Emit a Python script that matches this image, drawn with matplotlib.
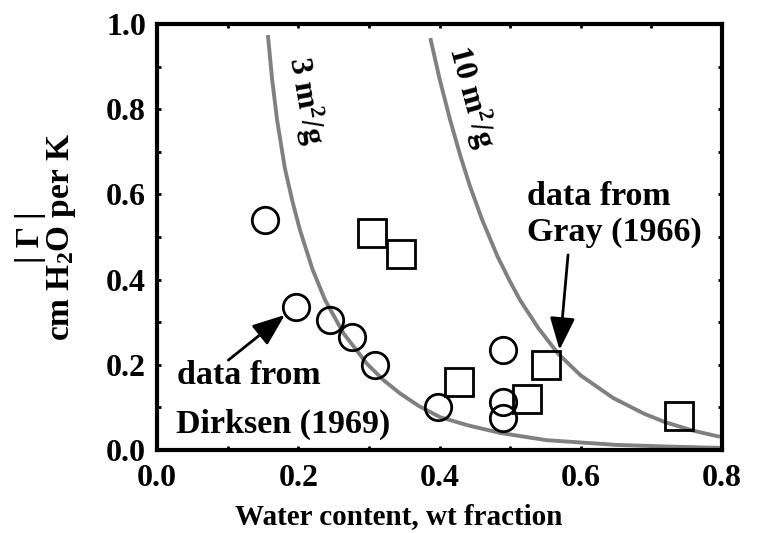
import matplotlib
matplotlib.use("Agg")
import matplotlib.pyplot as plt

# curve: 3 m^2/g
w3 = [0.157, 0.163, 0.170, 0.181, 0.192, 0.2025, 0.220, 0.238, 0.264, 0.297,
      0.320, 0.344, 0.370, 0.401, 0.440, 0.486, 0.552, 0.650, 0.725, 0.797]
g3 = [0.974, 0.870, 0.775, 0.662, 0.582, 0.516, 0.425, 0.352, 0.274, 0.203,
      0.165, 0.133, 0.104, 0.077, 0.058, 0.040, 0.023, 0.012, 0.008, 0.005]

# curve: 10 m^2/g
w10 = [0.387, 0.400, 0.415, 0.430, 0.443, 0.460, 0.482, 0.500, 0.514, 0.540,
       0.568, 0.600, 0.646, 0.690, 0.720, 0.760, 0.797]
g10 = [0.967, 0.872, 0.775, 0.688, 0.620, 0.542, 0.455, 0.395, 0.352, 0.286,
       0.226, 0.175, 0.122, 0.085, 0.065, 0.045, 0.031]

# Dirksen (1969) - circles
dirk_w = [0.153, 0.197, 0.245, 0.276, 0.309, 0.398, 0.490, 0.490, 0.490]
dirk_g = [0.540, 0.336, 0.305, 0.265, 0.200, 0.100, 0.235, 0.113, 0.075]

# Gray (1966) - squares
gray_w = [0.305, 0.346, 0.428, 0.524, 0.551, 0.739]
gray_g = [0.509, 0.459, 0.160, 0.120, 0.200, 0.080]

plt.rcParams["font.family"] = ["Liberation Serif", "DejaVu Serif"]
plt.rcParams["font.weight"] = "bold"
plt.rcParams["axes.labelweight"] = "bold"
plt.rcParams["mathtext.fontset"] = "custom"
plt.rcParams["mathtext.rm"] = "Liberation Serif:bold"
plt.rcParams["mathtext.it"] = "Liberation Serif:bold"
plt.rcParams["mathtext.bf"] = "Liberation Serif:bold"

fig = plt.figure(figsize=(7.6, 5.33), dpi=100)
ax = fig.add_axes([157 / 760, 1 - 450 / 533, 565 / 760, 426 / 533])

curve_col = "#808080"
ax.plot(w3, g3, color=curve_col, lw=2.8, solid_joinstyle="round", solid_capstyle="butt", zorder=2)
ax.plot(w10, g10, color=curve_col, lw=2.8, solid_joinstyle="round", solid_capstyle="butt", zorder=2)

ax.plot(dirk_w, dirk_g, "o", ms=19, mfc="none", mec="black", mew=2.0, zorder=3)
ax.plot(gray_w, gray_g, "s", ms=20, mfc="none", mec="black", mew=2.0, zorder=3)

ax.text(0.210, 0.820, "3 m$^2$/g", rotation=-80, ha="center", va="center", fontsize=23)
ax.text(0.445, 0.829, "10 m$^2$/g", rotation=-75, ha="center", va="center", fontsize=23)

# annotations
arrow = dict(arrowstyle="-|>,head_length=0.9,head_width=0.35",
             color="black", lw=2, mutation_scale=22, shrinkA=0, shrinkB=0)
ax.annotate("", xy=(0.181, 0.317), xytext=(0.101, 0.211), arrowprops=arrow)
ax.text(0.028, 0.155, "data from", fontsize=24.5, ha="left", va="baseline")
ax.text(0.027, 0.040, "Dirksen (1969)", fontsize=24.5, ha="left", va="baseline")

ax.annotate("", xy=(0.570, 0.235), xytext=(0.582, 0.458), arrowprops=arrow)
ax.text(0.524, 0.575, "data from", fontsize=24.5, ha="left", va="baseline")
ax.text(0.524, 0.491, "Gray (1966)", fontsize=24.5, ha="left", va="baseline")

ax.set_xlim(0, 0.8)
ax.set_ylim(0, 1.0)
ax.set_xticks([0.0, 0.2, 0.4, 0.6, 0.8])
ax.set_yticks([0.0, 0.2, 0.4, 0.6, 0.8, 1.0])
ax.set_xticks([0.1, 0.3, 0.5, 0.7], minor=True)
ax.set_yticks([0.1, 0.3, 0.5, 0.7, 0.9], minor=True)
ax.set_xticklabels(["0.0", "0.2", "0.4", "0.6", "0.8"])
ax.set_yticklabels(["0.0", "0.2", "0.4", "0.6", "0.8", "1.0"])
ax.tick_params(which="both", direction="in", top=True, right=True,
               length=3, width=2, labelsize=23)
ax.tick_params(axis="x", pad=10)
ax.tick_params(axis="y", pad=8)
for s in ax.spines.values():
    s.set_linewidth(3)

ax.set_xlabel("Water content, wt fraction", fontsize=21)
ax.xaxis.set_label_coords(0.427, -0.125)
ax.set_ylabel("| Γ |\ncm H$_2$O per K", fontsize=24, linespacing=0.95)
ax.yaxis.set_label_coords(-0.14, 0.5)

plt.savefig("out.png", dpi=100)
